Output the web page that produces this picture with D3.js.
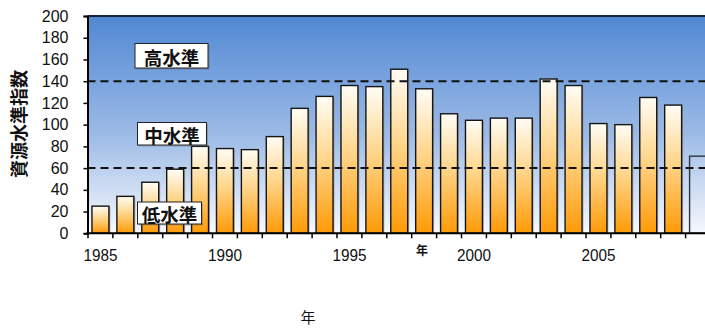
<!DOCTYPE html>
<html>
<head>
<meta charset="utf-8">
<script src="https://cdn.jsdelivr.net/npm/d3@7"></script>
<style>
  html, body { margin: 0; padding: 0; background: #fff; }
  svg { display: block; }
  text { font-family: "Liberation Sans", Arial, sans-serif; }
  .jp { font-family: "Noto Sans CJK JP", "Noto Sans CJK SC", sans-serif; }
</style>
</head>
<body>
<svg id="chart" width="705" height="328"></svg>
<script>
// Resource level index by year
const years = d3.range(1985, 2010);
const indexValues = [25, 34, 47, 59, 80, 78, 77, 89, 115, 126, 136, 135, 151, 133, 110,
                     104, 106, 106, 142, 136, 101, 100, 125, 118, 71];
const yTicks = [0, 20, 40, 60, 80, 100, 120, 140, 160, 180, 200];
const xTickLabels = [1985, 1990, 1995, 2000, 2005];
const thresholds = [60, 140];
const levelLabels = ["高水準", "中水準", "低水準"];

const svg = d3.select("#chart");
const W = 705, H = 328;
const plot = { left: 87.5, top: 16, bottom: 233.3, right: 710.5 };

const x = d3.scaleBand()
  .domain(years)
  .range([88, 88 + 25 * 24.9])
  .paddingInner(0.32)
  .paddingOuter(0.16);
const y = d3.scaleLinear().domain([0, 200]).range([plot.bottom, plot.top]);

const defs = svg.append("defs");
const bg = defs.append("linearGradient").attr("id", "bg")
  .attr("x1", 0).attr("y1", 0).attr("x2", 0).attr("y2", 1);
bg.append("stop").attr("offset", "0%").attr("stop-color", "#5088d4");
bg.append("stop").attr("offset", "55%").attr("stop-color", "#9dbbe6");
bg.append("stop").attr("offset", "100%").attr("stop-color", "#f7f9fd");

const barGrad = defs.append("linearGradient").attr("id", "barGrad")
  .attr("x1", 0).attr("y1", 0).attr("x2", 0).attr("y2", 1);
barGrad.append("stop").attr("offset", "0%").attr("stop-color", "#fffdf6");
barGrad.append("stop").attr("offset", "45%").attr("stop-color", "#ffd68c");
barGrad.append("stop").attr("offset", "100%").attr("stop-color", "#ff9a06");

const clip = defs.append("clipPath").attr("id", "plotClip");
clip.append("rect").attr("x", 0).attr("y", 0).attr("width", W).attr("height", H);

// plot background
svg.append("rect")
  .attr("x", plot.left).attr("y", plot.top)
  .attr("width", W - plot.left).attr("height", plot.bottom - plot.top)
  .attr("fill", "url(#bg)");

// bars
const bars = svg.append("g").attr("clip-path", "url(#plotClip)");
const last = years.length - 1;
bars.selectAll("rect.shadow")
  .data(years.slice(0, last))
  .join("rect")
  .attr("class", "shadow")
  .attr("x", d => x(d) + 1.5)
  .attr("y", (d, i) => y(indexValues[i]) + 1)
  .attr("width", x.bandwidth())
  .attr("height", (d, i) => plot.bottom - y(indexValues[i]) - 1)
  .attr("fill", "#8a8a8a").attr("opacity", 0.6);
bars.selectAll("rect.bar")
  .data(years)
  .join("rect")
  .attr("class", "bar")
  .attr("x", d => x(d))
  .attr("y", (d, i) => y(indexValues[i]))
  .attr("width", x.bandwidth())
  .attr("height", (d, i) => plot.bottom - y(indexValues[i]))
  .attr("fill", (d, i) => i === last ? "none" : "url(#barGrad)")
  .attr("stroke", (d, i) => i === last ? "#2d3440" : "#151515")
  .attr("stroke-width", 1.4);

// threshold lines
svg.selectAll("line.thr")
  .data(thresholds)
  .join("line")
  .attr("class", "thr")
  .attr("x1", plot.left).attr("x2", W)
  .attr("y1", d => y(d)).attr("y2", d => y(d))
  .attr("stroke", "#111").attr("stroke-width", 2)
  .attr("stroke-dasharray", "8,5");

// top frame line
svg.append("line")
  .attr("x1", plot.left).attr("x2", W)
  .attr("y1", plot.top).attr("y2", plot.top)
  .attr("stroke", "#14223a").attr("stroke-width", 2);

// level labels
const labelPos = [
  { x: 135, y: 43.5, w: 73, h: 24.5 },
  { x: 137.5, y: 122.5, w: 69, h: 22.5 },
  { x: 137.5, y: 202, w: 64, h: 22 }
];
levelLabels.forEach((t, i) => {
  const p = labelPos[i];
  const g = svg.append("g");
  g.append("rect")
    .attr("x", p.x + 1.5).attr("y", p.y + 1.5).attr("width", p.w).attr("height", p.h)
    .attr("fill", "#555").attr("opacity", 0.35);
  g.append("rect")
    .attr("x", p.x).attr("y", p.y).attr("width", p.w).attr("height", p.h)
    .attr("fill", "#fff").attr("stroke", "#222").attr("stroke-width", 1);
  g.append("text").attr("class", "jp")
    .attr("x", p.x + p.w / 2).attr("y", p.y + p.h / 2 + 1)
    .attr("text-anchor", "middle").attr("dominant-baseline", "central")
    .attr("font-size", 18.5).attr("font-weight", "bold").attr("fill", "#111")
    .text(t);
});

// y axis
const yAxis = svg.append("g")
  .attr("transform", `translate(${plot.left},0)`)
  .call(d3.axisLeft(y).tickValues(yTicks).tickSize(4).tickPadding(4));
yAxis.select(".domain").attr("stroke", "#000").attr("stroke-width", 2);
yAxis.selectAll(".tick line").attr("stroke", "#000").attr("stroke-width", 1.5);
yAxis.selectAll(".tick text")
  .attr("font-family", "Liberation Sans, Arial, sans-serif")
  .attr("font-size", 16).attr("fill", "#111")
  .attr("x", -19);

// x axis
const xAxisG = svg.append("g").attr("transform", `translate(0,${plot.bottom})`);
xAxisG.append("line")
  .attr("x1", plot.left - 1).attr("x2", W)
  .attr("y1", 0).attr("y2", 0)
  .attr("stroke", "#000").attr("stroke-width", 2);
const step = x.step();
xAxisG.selectAll("line.tk")
  .data(years)
  .join("line")
  .attr("class", "tk")
  .attr("x1", d => x(d) - step * 0.16).attr("x2", d => x(d) - step * 0.16)
  .attr("y1", 0).attr("y2", 5)
  .attr("stroke", "#000").attr("stroke-width", 1.5);
xAxisG.selectAll("text.tl")
  .data(xTickLabels)
  .join("text")
  .attr("class", "tl")
  .attr("x", d => x(d) + x.bandwidth() / 2)
  .attr("y", 27.5)
  .attr("text-anchor", "middle")
  .attr("font-size", 16).attr("fill", "#111")
  .attr("textLength", 34).attr("lengthAdjust", "spacingAndGlyphs")
  .text(d => d);

// small axis title near the x axis
svg.append("text").attr("class", "jp")
  .attr("x", 422).attr("y", 255)
  .attr("text-anchor", "middle")
  .attr("font-size", 12).attr("font-weight", "bold").attr("fill", "#111")
  .text("年");

// bottom axis title
svg.append("text").attr("class", "jp")
  .attr("x", 308).attr("y", 323)
  .attr("text-anchor", "middle")
  .attr("font-size", 15).attr("fill", "#111")
  .text("年");

// y axis title
svg.append("text").attr("class", "jp")
  .attr("transform", "translate(18,124) rotate(-90)")
  .attr("text-anchor", "middle").attr("dominant-baseline", "central")
  .attr("font-size", 18).attr("font-weight", "bold").attr("fill", "#111")
  .text("資源水準指数");
</script>
</body>
</html>
